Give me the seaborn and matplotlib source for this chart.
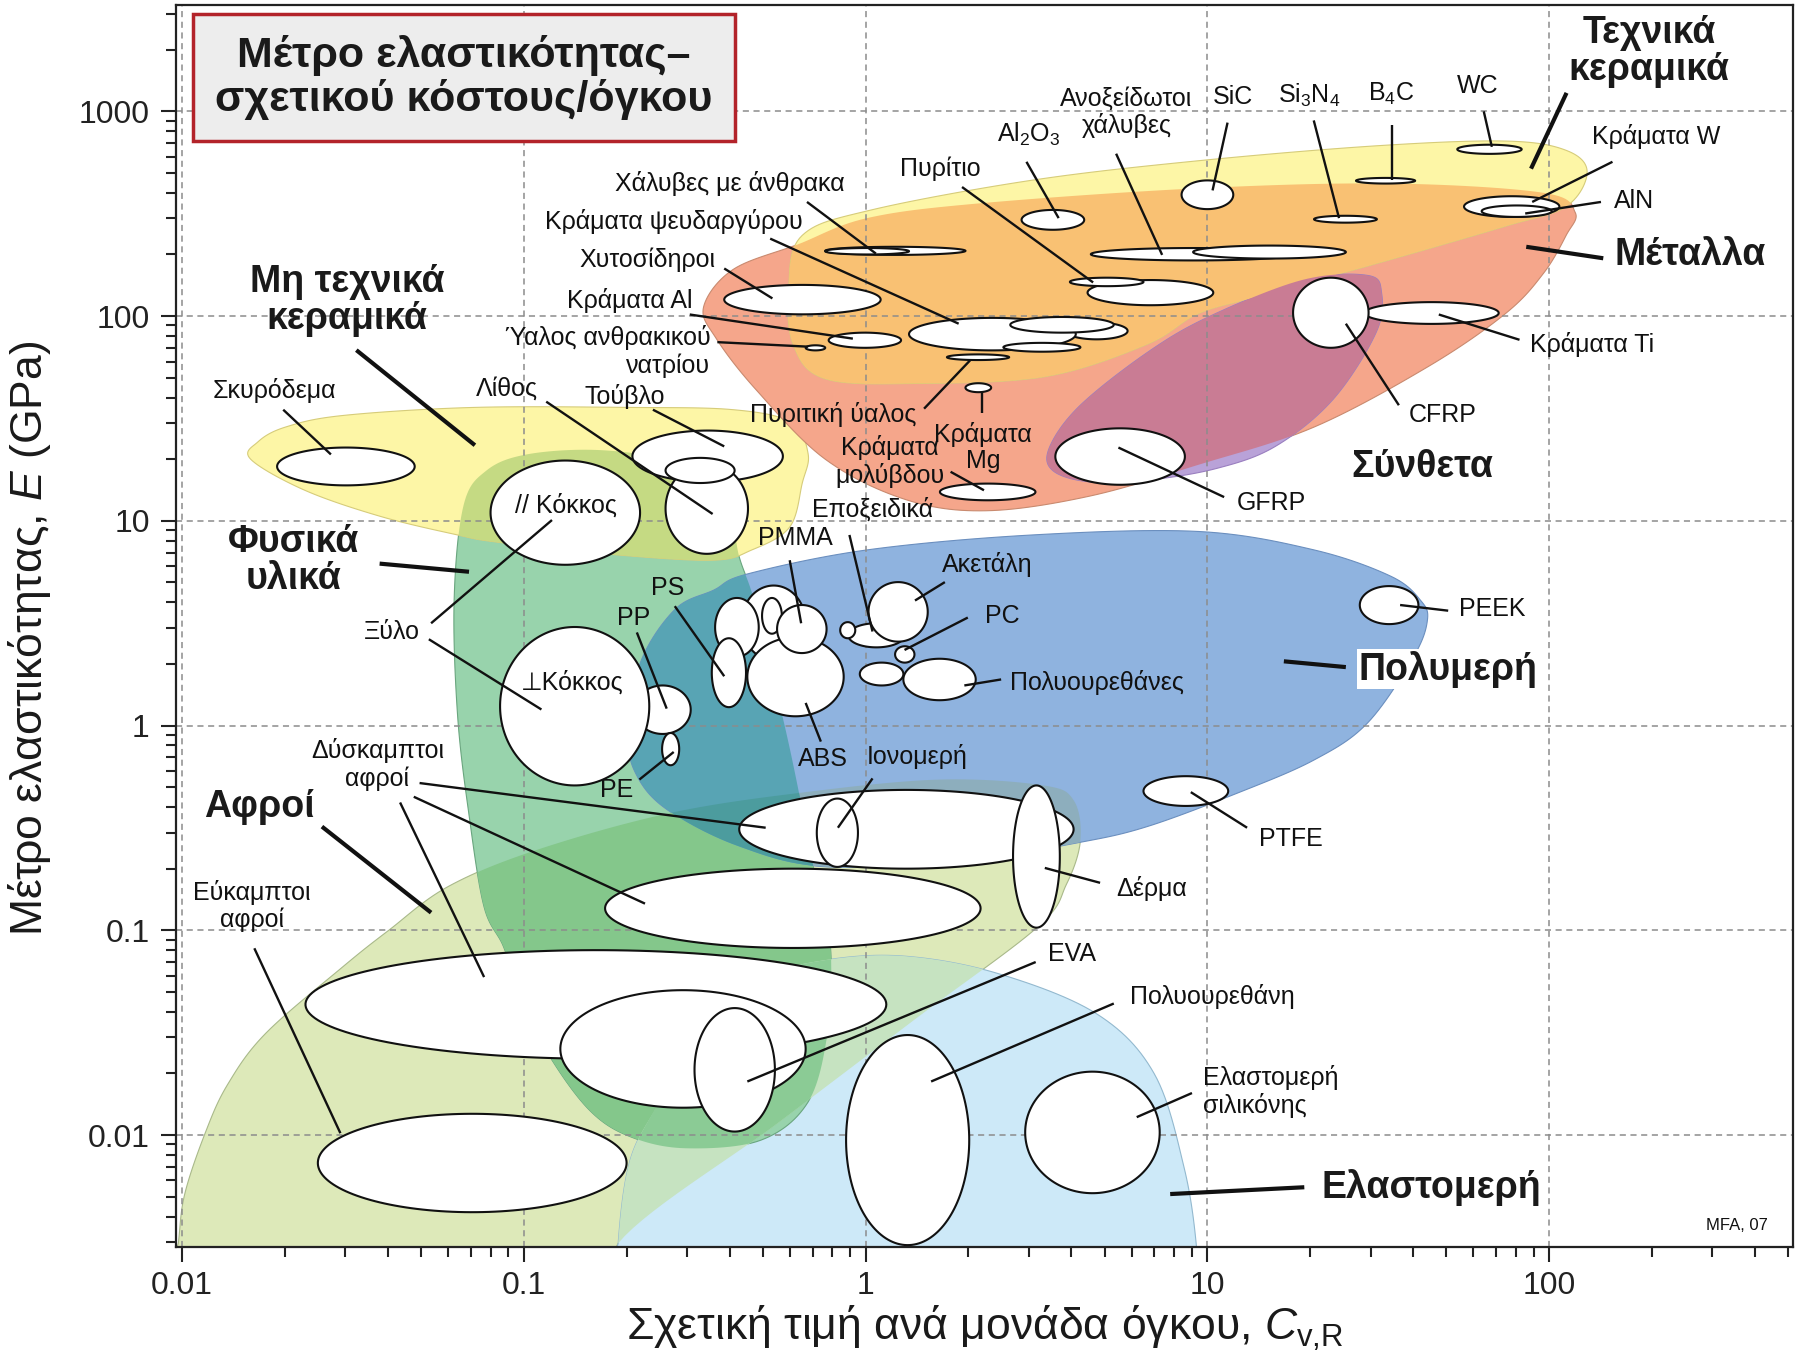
"""
Ashby chart: Young's modulus vs relative cost per unit volume (Greek labels).
"""
import numpy as np
import matplotlib
matplotlib.use("Agg")
import matplotlib.pyplot as plt
import seaborn as sns
from matplotlib.patches import Polygon, Rectangle
from matplotlib.ticker import LogLocator, NullFormatter, FuncFormatter

sns.set_theme(style="white")
plt.rcParams['font.family'] = ['Liberation Sans', 'DejaVu Sans']
plt.rcParams['mathtext.fontset'] = 'custom'
plt.rcParams['mathtext.rm'] = 'Liberation Sans'
plt.rcParams['mathtext.it'] = 'Liberation Sans:italic'
plt.rcParams['mathtext.bf'] = 'Liberation Sans:bold'

# ---------------- envelopes: outline points (C_vR, E in GPa) ----------------
foams_c = [0.00925, 0.00977, 0.0102, 0.0117, 0.0136, 0.0176, 0.0296, 0.0403, 0.0603, 0.110,
           0.270, 0.668, 1.65, 3.29, 4.06, 4.25, 3.87, 3.19, 1.42, 0.56, 0.189, 0.189]
foams_e = [0.00124, 0.00296, 0.00515, 0.0102, 0.0176, 0.0314, 0.0664, 0.100, 0.164, 0.248,
           0.375, 0.473, 0.545, 0.511, 0.432, 0.275, 0.168, 0.104, 0.0376, 0.0116, 0.00296, 0.00124]

elast_c = [0.189, 0.189, 0.205, 0.250, 0.338, 0.498, 0.774, 1.31, 2.44, 4.74, 6.98, 8.53, 9.29, 9.43]
elast_e = [0.00124, 0.00296, 0.00759, 0.0145, 0.0335, 0.0584, 0.0718, 0.0747, 0.0615, 0.0391,
           0.0200, 0.00702, 0.00284, 0.00124]

natural_c = [0.0667, 0.0778, 0.102, 0.162, 0.258, 0.352, 0.404, 0.427, 0.469, 0.526, 0.586, 0.638,
             0.700, 0.762, 0.793, 0.774, 0.679, 0.494, 0.297, 0.205, 0.156, 0.119, 0.0981, 0.0874,
             0.0766, 0.0693, 0.0641, 0.0626]
natural_e = [11.9, 17.6, 21.1, 22.2, 20.0, 15.5, 10.5, 6.67, 4.25, 1.96, 0.925, 0.473, 0.212, 0.114,
             0.0718, 0.0314, 0.0145, 0.00944, 0.00862, 0.00982, 0.0132, 0.0243, 0.0463, 0.0828,
             0.130, 0.360, 1.11, 4.09]

nontech_c = [0.0159, 0.0167, 0.0201, 0.0296, 0.0714, 0.205, 0.41, 0.605, 0.679, 0.653, 0.60, 0.465,
             0.352, 0.166, 0.0827, 0.0641, 0.0382, 0.0229]
nontech_e = [20.0, 24.3, 28.7, 32.7, 35.8, 35.8, 34.9, 30.3, 21.3, 15.3, 9.33, 7.21, 6.42, 6.94,
             7.89, 8.53, 10.5, 14.1]

polymers_c = [0.219, 0.277, 0.360, 0.451, 1.01, 3.07, 9.43, 20.5, 34.4, 42.0, 44.0, 40.1, 29.4,
              20.5, 12.2, 6.66, 4.19, 2.09, 0.774, 0.424, 0.262, 0.213, 0.203]
polymers_e = [2.01, 3.69, 4.59, 5.50, 7.21, 8.53, 8.87, 7.21, 5.36, 4.09, 3.28, 2.17, 1.03, 0.679,
              0.467, 0.321, 0.268, 0.223, 0.204, 0.258, 0.39, 0.581, 0.902]

metals_c = [0.336, 0.410, 0.634, 1.01, 2.18, 9.43, 34.4, 96.2, 119, 112, 96.2, 74.5, 44.4, 20.5,
            9.43, 4.52, 2.25, 1.31, 0.762, 0.48, 0.366]
metals_e = [111, 169, 224, 301, 356, 421, 444, 400, 321, 248, 162, 103, 56.9, 28.7, 18.8, 13.2,
            11.2, 12.7, 20.0, 43.4, 77.6]

ceramics_c = [0.614, 0.596, 0.653, 1.04, 3.07, 9.43, 31.3, 74.5, 112, 129, 112, 74.5, 34.4, 14.4,
              9.43, 6.66, 3.37, 1.42, 0.762]
ceramics_e = [72.8, 139, 248, 330, 461, 574, 679, 716, 645, 505, 343, 275, 189, 126, 103, 72.8,
              50.7, 46.9, 49.4]

composites_c = [3.53, 3.45, 4.22, 6.61, 10.1, 18.9, 29.4, 32.3, 31.1, 23.3, 15.8, 10.6, 6.66, 4.52]
composites_e = [17.6, 22.8, 36.3, 65.7, 99.3, 150, 158, 130, 82.8, 39.2, 23.1, 18.0, 15.8, 15.5]

# ---------------- material property ranges (C_vR min/max, E min/max) ----------------
mat_name = ['Εύκαμπτοι αφροί', 'Δύσκαμπτοι αφροί 3', 'Αφρός 4', 'EVA', 'Δύσκαμπτοι αφροί 2',
            'Δύσκαμπτοι αφροί 1', 'Ιονομερή', 'Δέρμα', 'Πολυουρεθάνη', 'Ελαστομερή σιλικόνης',
            'PTFE', 'PEEK', 'PP', 'PE', 'Ξύλο ⊥', 'PA', 'ABS', 'Πολυμερές α', 'Πολυμερές β',
            'PMMA', 'PS', 'Εποξειδικά', 'Πολυμερές γ', 'Ακετάλη', 'PC', 'Πολυουρεθάνες β',
            'Πολυουρεθάνες', 'Ξύλο //', 'Σκυρόδεμα', 'Τούβλο', 'Λίθος', 'Κεραμικό δ', 'GFRP',
            'Κράματα μολύβδου', 'Κράματα Mg', 'Πυριτική ύαλος', 'Χυτοσίδηροι', 'Κράματα Al',
            'Ύαλος ανθρακικού νατρίου', 'Μέταλλο ε', 'Κράματα ψευδαργύρου', 'Κράματα Cu',
            'Μέταλλο ζ', 'Χάλυβες χαμηλής κραμάτωσης', 'Χάλυβες με άνθρακα', 'Κράματα Ni β',
            'Πυρίτιο', 'Ανοξείδωτοι χάλυβες', 'Κράματα Ni', 'Al2O3', 'SiC', 'Si3N4', 'B4C', 'WC',
            'Κράματα W', 'AlN', 'Κράματα Ti', 'CFRP']
mat_c_lo = [0.025, 0.023, 0.128, 0.316, 0.173, 0.427, 0.72, 2.7, 0.877, 2.93,
            6.5, 27.9, 0.211, 0.254, 0.0853, 0.434, 0.451, 0.363, 0.498,
            0.551, 0.355, 0.89, 0.843, 1.02, 1.22, 0.962,
            1.29, 0.080, 0.019, 0.208, 0.26, 0.26, 3.59,
            1.65, 1.96, 1.73, 0.386, 0.78,
            0.668, 3.85, 1.34, 2.65,
            2.53, 0.762, 0.762, 4.46,
            3.96, 4.56, 9.08, 2.86, 8.4, 20.5, 27.2, 53.8,
            56.3, 63.4, 28.8, 17.8]
mat_c_hi = [0.20, 1.15, 0.668, 0.543, 2.17, 4.06, 0.95, 3.7, 2.01, 7.25,
            11.5, 41.4, 0.308, 0.285, 0.233, 0.668, 0.863, 0.487, 0.569,
            0.769, 0.447, 1.30, 0.933, 1.52, 1.39, 1.29,
            2.10, 0.219, 0.048, 0.573, 0.453, 0.414, 8.59,
            3.14, 2.33, 2.63, 1.107, 1.27,
            0.762, 5.84, 4.12, 5.32,
            4.25, 1.96, 1.34, 10.4,
            6.5, 18.2, 25.4, 4.36, 11.9, 31.3, 40.5, 83,
            107, 101.6, 71.1, 29.6]
mat_e_lo = [0.0042, 0.0236, 0.0136, 0.0104, 0.082, 0.20, 0.204, 0.103, 0.0029, 0.0052,
            0.405, 3.13, 0.91, 0.64, 0.51, 2.09, 1.11, 2.17, 2.81,
            2.26, 1.23, 2.41, 2.67, 2.57, 2.03, 1.57,
            1.33, 6.1, 14.9, 15.5, 6.9, 15.3, 15.0,
            12.6, 42.5, 61, 102, 70,
            68, 77, 68, 83,
            67, 199, 200, 113,
            140, 187, 191, 264, 333, 286, 444, 620,
            305, 305, 91.6, 70]
mat_e_hi = [0.0127, 0.080, 0.051, 0.0417, 0.20, 0.485, 0.44, 0.51, 0.0308, 0.0204,
            0.566, 4.8, 1.57, 0.92, 3.03, 4.83, 2.70, 4.2, 4.2,
            3.88, 2.67, 3.16, 3.2, 5.02, 2.44, 2.03,
            2.12, 19.7, 22.8, 27.6, 19.1, 20.3, 28.3,
            15.2, 47.0, 65, 142, 83,
            72, 93, 98, 99,
            74, 218, 215, 150,
            154, 215, 221, 330, 460, 309, 473, 687,
            385, 347, 117, 154]

# ---------------- annotations (positions in data units) ----------------
mat_labels = [
    ('Σκυρόδεμα', 0.0187, 43.4, 'center'), ('Λίθος', 0.0893, 44.0, 'center'),
    ('Τούβλο', 0.198, 40.7, 'center'), ('// Κόκκος', 0.1327, 11.9, 'center'),
    ('⊥Κόκκος', 0.139, 1.63, 'center'), ('Ξύλο', 0.0412, 2.85, 'center'),
    ('Κράματα Al', 0.3108, 119, 'right'), ('Ύαλος ανθρακικού\nνατρίου', 0.3517, 67.3, 'right'),
    ('Χυτοσίδηροι', 0.2298, 189, 'center'), ('Κράματα ψευδαργύρου', 0.2747, 290, 'center'),
    ('Χάλυβες με άνθρακα', 0.401, 444, 'center'), ('Πυρίτιο', 1.65, 525, 'center'),
    ('Al$_2$O$_3$', 3.0, 773, 'center'), ('Ανοξείδωτοι\nχάλυβες', 5.795, 988, 'center'),
    ('SiC', 11.9, 1169, 'center'), ('Si$_3$N$_4$', 19.84, 1200, 'center'),
    ('B$_4$C', 34.36, 1216, 'center'), ('WC', 61.9, 1331, 'center'),
    ('Κράματα W', 205.4, 754, 'center'), ('AlN', 177.4, 365, 'center'),
    ('Κράματα Ti', 133, 72.8, 'center'), ('CFRP', 48.6, 32.7, 'center'),
    ('GFRP', 15.37, 12.25, 'center'), ('Πυριτική ύαλος', 0.805, 33.1, 'center'),
    ('Κράματα\nMg', 2.203, 22.8, 'center'), ('Κράματα\nμολύβδου', 1.176, 19.5, 'center'),
    ('Εποξειδικά', 1.048, 11.33, 'center'), ('PMMA', 0.624, 8.21, 'center'),
    ('Ακετάλη', 2.27, 6.10, 'center'), ('PC', 2.512, 3.41, 'center'),
    ('Πολυουρεθάνες', 2.652, 1.63, 'left'), ('PS', 0.264, 4.71, 'center'),
    ('PP', 0.2094, 3.37, 'center'), ('PE', 0.1866, 0.485, 'center'),
    ('ABS', 0.751, 0.688, 'center'), ('Ιονομερή', 1.416, 0.706, 'center'),
    ('PEEK', 67.9, 3.73, 'center'), ('PTFE', 17.5, 0.279, 'center'),
    ('Δύσκαμπτοι\nαφροί', 0.0373, 0.645, 'center'), ('Εύκαμπτοι\nαφροί', 0.016, 0.1317, 'center'),
    ('Δέρμα', 6.87, 0.160, 'center'), ('EVA', 4.027, 0.0766, 'center'),
    ('Πολυουρεθάνη', 10.35, 0.0474, 'center'), ('Ελαστομερή\nσιλικόνης', 9.73, 0.01625, 'left'),
]
group_labels = [
    ('Τεχνικά\nκεραμικά', 196, 1960), ('Μέταλλα', 259, 199), ('Σύνθετα', 42.66, 18.3),
    ('Πολυμερή', 50.6, 1.88), ('Ελαστομερή', 45.1, 0.00556), ('Αφροί', 0.0169, 0.400),
    ('Φυσικά\nυλικά', 0.0213, 6.42), ('Μη τεχνικά\nκεραμικά', 0.0305, 119),
]
# leader lines: (C0, E0, C1, E1)
mat_leaders = [
    (0.0198, 34.9, 0.0273, 21.1), (0.1164, 38.2, 0.357, 10.8), (0.2388, 34.9, 0.386, 23.1),
    (0.0536, 3.16, 0.121, 10.09), (0.0528, 2.64, 0.1127, 1.198), (0.306, 101.8, 0.918, 77.6),
    (0.3685, 74.6, 0.679, 70.9), (0.386, 170.8, 0.534, 122), (0.526, 239, 1.872, 91.8),
    (0.674, 361, 1.072, 202), (1.915, 427, 4.63, 146), (2.955, 567, 3.671, 301),
    (5.406, 621, 7.37, 199), (11.45, 881, 10.35, 411), (20.46, 903, 24.26, 301),
    (34.6, 857, 34.6, 461), (64.3, 1000, 67.9, 671), (153, 567, 89.1, 361),
    (141.6, 361, 85.0, 317), (81.8, 76.6, 47.5, 101.8), (36.3, 36.7, 25.4, 91.8),
    (11.19, 13.06, 5.49, 22.8), (1.483, 35.3, 2.022, 60.8), (2.186, 42.9, 2.186, 33.5),
    (1.773, 17.36, 2.22, 14.1), (0.897, 8.53, 1.048, 2.88), (0.600, 6.42, 0.648, 3.16),
    (1.706, 5.02, 1.395, 4.08), (1.991, 3.37, 1.30, 2.34), (2.492, 1.68, 1.945, 1.57),
    (0.2767, 3.83, 0.386, 1.742), (0.2143, 2.85, 0.262, 1.21), (0.218, 0.545, 0.2747, 0.743),
    (0.740, 0.835, 0.668, 1.29), (1.048, 0.552, 0.830, 0.317), (50.6, 3.64, 36.6, 3.88),
    (13.06, 0.317, 8.94, 0.473), (0.0496, 0.524, 0.5103, 0.317), (0.0477, 0.449, 0.2264, 0.135),
    (0.0435, 0.421, 0.0766, 0.0591), (0.0163, 0.0817, 0.0291, 0.01021),
    (4.853, 0.1706, 3.344, 0.2017), (3.145, 0.070, 0.451, 0.01826),
    (5.322, 0.0439, 1.555, 0.01826), (9.01, 0.01604, 6.21, 0.01223),
]
group_leaders = [
    (112.3, 1231, 88.4, 525), (143.8, 191.6, 85.6, 218), (25.4, 1.93, 16.73, 2.06),
    (19.2, 0.00556, 7.78, 0.00515), (0.0257, 0.321, 0.0536, 0.122),
    (0.0379, 6.18, 0.0692, 5.64), (0.0324, 68.2, 0.0720, 23.4),
]

# ---------------- helpers ----------------
def smooth_closed(c, e, n=14):
    """Closed Catmull-Rom curve through the outline points, in log10 space."""
    p = np.column_stack([np.log10(c), np.log10(e)])
    m = len(p)
    t = np.linspace(0, 1, n, endpoint=False)[:, None]
    out = []
    for i in range(m):
        p0, p1, p2, p3 = p[i - 1], p[i], p[(i + 1) % m], p[(i + 2) % m]
        out.append(0.5 * (2 * p1 + (-p0 + p2) * t + (2 * p0 - 5 * p1 + 4 * p2 - p3) * t ** 2
                          + (-p0 + 3 * p1 - 3 * p2 + p3) * t ** 3))
    return np.vstack(out)


def convex_hull(pts):
    pts = sorted(map(tuple, pts))

    def cross(o, a, b):
        return (a[0] - o[0]) * (b[1] - o[1]) - (a[1] - o[1]) * (b[0] - o[0])
    lower, upper = [], []
    for p in pts:
        while len(lower) >= 2 and cross(lower[-2], lower[-1], p) <= 0:
            lower.pop()
        lower.append(p)
    for p in reversed(pts):
        while len(upper) >= 2 and cross(upper[-2], upper[-1], p) <= 0:
            upper.pop()
        upper.append(p)
    return np.array(lower[:-1] + upper[:-1])   # counter-clockwise


def clip_convex(subject, clipper):
    """Sutherland-Hodgman clipping against a convex, counter-clockwise polygon."""
    def inside(p, a, b):
        return (b[0] - a[0]) * (p[1] - a[1]) - (b[1] - a[1]) * (p[0] - a[0]) >= 0

    def cross_pt(s, e, a, b):
        d1, d2 = e - s, b - a
        den = d1[0] * d2[1] - d1[1] * d2[0]
        if den == 0:
            return e
        tt = ((a[0] - s[0]) * d2[1] - (a[1] - s[1]) * d2[0]) / den
        return s + tt * d1

    out = [np.asarray(q) for q in subject]
    for i in range(len(clipper)):
        a, b = clipper[i - 1], clipper[i]
        inp, out = out, []
        if not inp:
            break
        s = inp[-1]
        for e in inp:
            if inside(e, a, b):
                if not inside(s, a, b):
                    out.append(cross_pt(s, e, a, b))
                out.append(e)
            elif inside(s, a, b):
                out.append(cross_pt(s, e, a, b))
            s = e
    return np.array(out)


def ellipse_pts(c_lo, c_hi, e_lo, e_hi, n=160):
    cx, cy = (np.log10(c_lo) + np.log10(c_hi)) / 2, (np.log10(e_lo) + np.log10(e_hi)) / 2
    rx, ry = (np.log10(c_hi) - np.log10(c_lo)) / 2, (np.log10(e_hi) - np.log10(e_lo)) / 2
    t = np.linspace(0, 2 * np.pi, n)
    return np.column_stack([10 ** (cx + rx * np.cos(t)), 10 ** (cy + ry * np.sin(t))])


env = {
    'foams': smooth_closed(foams_c, foams_e),
    'elastomers': smooth_closed(elast_c, elast_e),
    'natural': smooth_closed(natural_c, natural_e),
    'nontech': smooth_closed(nontech_c, nontech_e),
    'polymers': smooth_closed(polymers_c, polymers_e),
    'metals': smooth_closed(metals_c, metals_e),
    'ceramics': smooth_closed(ceramics_c, ceramics_e),
    'composites': smooth_closed(composites_c, composites_e),
}
env_color = {
    'foams': '#dde9b9', 'elastomers': '#cde9f8', 'natural': '#98d3ac', 'nontech': '#fdf6a6',
    'polymers': '#8fb3df', 'metals': '#f5a68b', 'ceramics': '#fdf6a6', 'composites': '#b9a2d8',
}
env_edge = {
    'foams': '#a9b98a', 'elastomers': '#93b9cf', 'natural': '#6aa67f', 'nontech': '#d6cc7a',
    'polymers': '#6b8fbf', 'metals': '#c98a6f', 'ceramics': '#d6cc7a', 'composites': '#9a7fc0',
}
# overlap regions: first envelope drawn, middle ones cut by hull, last one used as clip path
overlaps = [
    (('natural', 'nontech'), '#c5da83'),
    (('natural', 'foams'), '#84c78b'),
    (('polymers', 'foams'), '#8daebd'),
    (('natural', 'polymers'), '#58a4b4'),
    (('natural', 'polymers', 'foams'), '#4c9c9e'),
    (('elastomers', 'foams'), '#c6e3c1'),
    (('natural', 'elastomers', 'foams'), '#8bcb95'),
    (('ceramics', 'metals'), '#f9c173'),
    (('composites', 'metals'), '#c97c94'),
]

# ---------------- figure ----------------
fig = plt.figure(figsize=(18, 13.67), dpi=100)
ax = fig.add_axes([0.0978, 0.0878, 0.8983, 0.9086])
ax.set_xscale('log')
ax.set_yscale('log')
ax.set_xlim(0.00962, 516)
ax.set_ylim(0.00284, 3310)

base_patch = {}
for name in ['foams', 'elastomers', 'natural', 'nontech', 'polymers', 'metals', 'ceramics',
             'composites']:
    p = Polygon(10 ** env[name], closed=True, fc=env_color[name], ec=env_edge[name],
                lw=0.8, zorder=1)
    ax.add_patch(p)
    base_patch[name] = p

for names, col in overlaps:
    poly = env[names[0]]
    for other in names[1:-1]:
        poly = clip_convex(poly, convex_hull(env[other]))
    if len(poly) < 3:
        continue
    patch = Polygon(10 ** poly, closed=True, fc=col, ec='none', zorder=1.2)
    ax.add_patch(patch)
    patch.set_clip_path(base_patch[names[-1]])

# grid between the envelopes and the material bubbles
ax.grid(True, which='major', ls=(0, (4, 3)), color='#8c8c8c', lw=1.1)
ax.set_axisbelow(False)

for i in range(len(mat_name)):
    pts = ellipse_pts(mat_c_lo[i], mat_c_hi[i], mat_e_lo[i], mat_e_hi[i])
    ax.add_patch(Polygon(pts, closed=True, fc='white', ec='#111111', lw=1.5, zorder=3))

for c0, e0, c1, e1 in mat_leaders:
    ax.plot([c0, c1], [e0, e1], color='#111111', lw=1.7, solid_capstyle='butt', zorder=4)
for c0, e0, c1, e1 in group_leaders:
    ax.plot([c0, c1], [e0, e1], color='#111111', lw=3.0, solid_capstyle='butt', zorder=4)

for txt, c, e, ha in mat_labels:
    ax.text(c, e, txt, ha=ha, va='center', fontsize=18, color='#111111',
            multialignment=ha, linespacing=1.15, zorder=6)
for txt, c, e in group_labels:
    kw = {}
    if txt == 'Πολυμερή':
        kw['bbox'] = dict(fc='white', ec='none', pad=1)
    ax.text(c, e, txt, ha='center', va='center', fontsize=27, fontweight='bold',
            color='#1a1a1a', linespacing=1.02, zorder=6, **kw)

ax.text(353, 0.00363, 'MFA, 07', ha='center', va='center', fontsize=12, color='#111111', zorder=6)

# title box
ax.add_patch(Rectangle((0.0105, 0.8905), 0.3352, 0.1023, transform=ax.transAxes,
                       fc='#ededed', ec='#b3232a', lw=2.5, zorder=7))
ax.text(0.178, 0.9416, 'Μέτρο ελαστικότητας–\nσχετικού κόστους/όγκου', transform=ax.transAxes,
        ha='center', va='center', fontsize=31, fontweight='bold', color='#1a1a1a',
        linespacing=1.08, zorder=8)

# axes styling
for sp in ax.spines.values():
    sp.set_color('#222222')
    sp.set_linewidth(1.6)
    sp.set_zorder(9)
ax.xaxis.set_major_locator(LogLocator(base=10, numticks=20))
ax.yaxis.set_major_locator(LogLocator(base=10, numticks=20))
ax.xaxis.set_minor_locator(LogLocator(base=10, subs=np.arange(2, 10), numticks=40))
ax.yaxis.set_minor_locator(LogLocator(base=10, subs=np.arange(2, 10), numticks=40))
fmt = FuncFormatter(lambda v, pos: '%g' % v)
ax.xaxis.set_major_formatter(fmt)
ax.yaxis.set_major_formatter(fmt)
ax.xaxis.set_minor_formatter(NullFormatter())
ax.yaxis.set_minor_formatter(NullFormatter())
ax.tick_params(which='major', direction='out', length=11, width=1.5, labelsize=23,
               color='#222222', labelcolor='#222222', pad=6)
ax.tick_params(which='minor', direction='out', length=7, width=1.5, color='#222222')
ax.tick_params(axis='y', which='major', pad=8)
ax.tick_params(bottom=True, left=True, which='both')

ax.set_xlabel('Σχετική τιμή ανά μονάδα όγκου, $C_{\\mathrm{v{,}R}}$', fontsize=32,
              color='#1a1a1a')
ax.set_ylabel('Μέτρο ελαστικότητας, $E$ (GPa)', fontsize=32, color='#1a1a1a')
ax.xaxis.set_label_coords(0.5, -0.046)
ax.yaxis.set_label_coords(-0.076, 0.49)

fig.savefig('out.png', dpi=100)
